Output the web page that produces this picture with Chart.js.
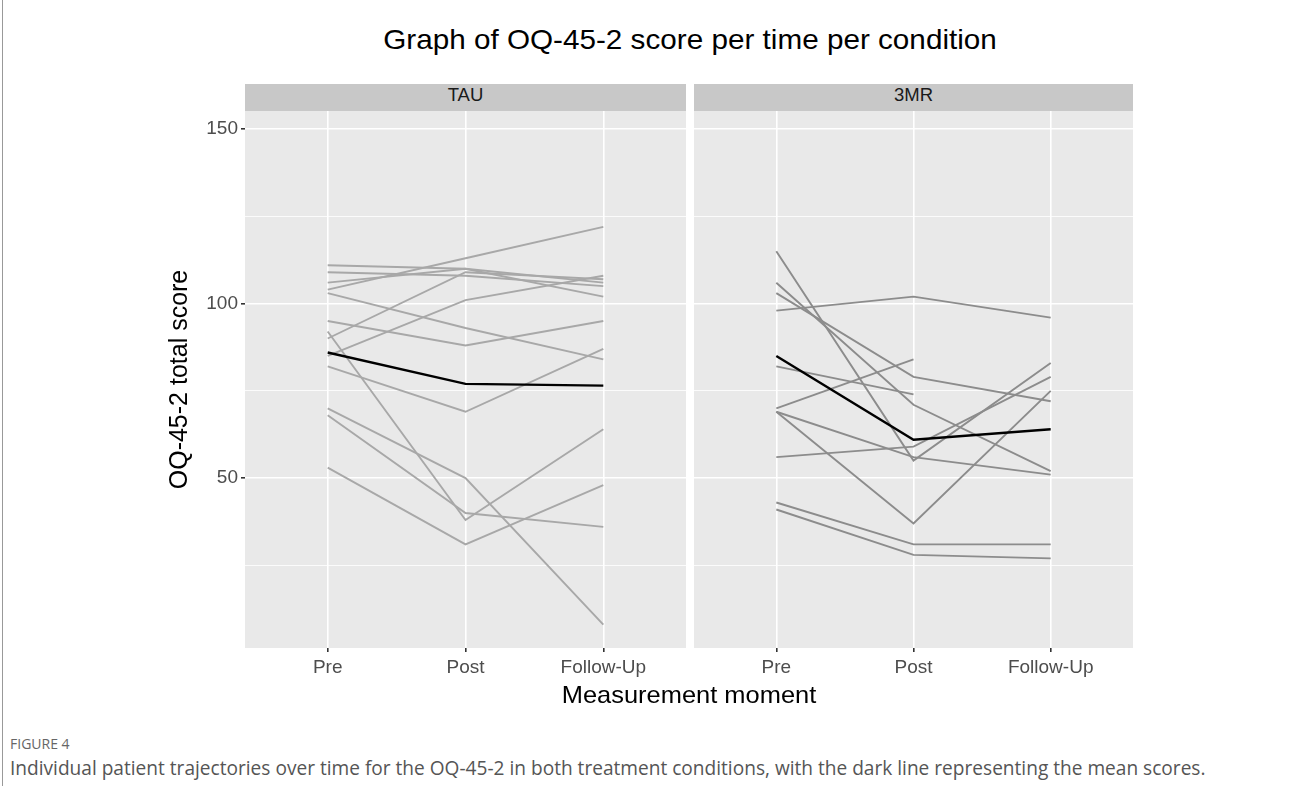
<!DOCTYPE html>
<html>
<head>
<meta charset="utf-8">
<script src="https://cdn.jsdelivr.net/npm/chart.js@4"></script>
<style>
  body { margin: 0; background: #fff; width: 1292px; height: 794px; position: relative; overflow: hidden; }
  .frame { position: absolute; left: 2px; top: 0; width: 0; height: 786px; border-left: 1px solid #999; }
  .title { position: absolute; left: 0; width: 1380px; top: 24px; text-align: center; font: 28px "Liberation Sans", Arial, sans-serif; color: #000; transform: scaleX(1.06); transform-origin: 690px 0; }
  .strip { position: absolute; top: 84px; height: 27px; line-height: 27px; background: #c8c8c8; text-align: center; font: 18.5px "Liberation Sans", Arial, sans-serif; color: #1a1a1a; }
  .xtitle { position: absolute; left: 245px; width: 888px; top: 681px; text-align: center; font: 24px "Liberation Sans", Arial, sans-serif; color: #000; transform: scaleX(1.06); transform-origin: 444px 0; }
  .fig { position: absolute; left: 10px; top: 734px; font: 14px "Open Sans", sans-serif; color: #666; }
  .cap { position: absolute; left: 10px; top: 755px; font: 19.1px "Open Sans", sans-serif; color: #555; white-space: nowrap; }
  canvas { position: absolute; }
</style>
</head>
<body>
<div class="frame"></div>
<div class="title">Graph of OQ-45-2 score per time per condition</div>
<div class="strip" style="left:245px;width:441px">TAU</div>
<div class="strip" style="left:694px;width:439px">3MR</div>
<div style="position:absolute;left:165px;top:100px;width:525px;height:600px"><canvas id="tau_chart"></canvas></div>
<div style="position:absolute;left:690px;top:100px;width:450px;height:600px"><canvas id="mr_chart"></canvas></div>
<div class="xtitle">Measurement moment</div>
<div class="fig">FIGURE 4</div>
<div class="cap">Individual patient trajectories over time for the OQ-45-2 in both treatment conditions, with the dark line representing the mean scores.</div>

<script>
'use strict';

const moments = ['Pre', 'Post', 'Follow-Up'];
const y_ticks = [25, 50, 75, 100, 125, 150];

// TAU condition, one row per patient (Pre, Post, Follow-Up)
const tau_patients = [
    [111, 110, 106],
    [109, 108, 105],
    [106, 110, 102],
    [104, 113, 122],
    [103, 93, 84],
    [95, 88, 95],
    [90, 109, 107],
    [85, 101, 108],
    [82, 69, 87],
    [92, 38, 64],
    [70, 50, 8],
    [68, 40, 36],
    [53, 31, 48],
];
const tau_mean = [86, 77, 76.5];

// 3MR condition
const mr_patients = [
    [115, 55, 83],
    [106, 71, 52],
    [103, 79, 72],
    [98, 102, 96],
    [82, 74, null],
    [70, 84, null],
    [69, 56, 51],
    [69, 37, 75],
    [56, 59, 79],
    [43, 31, 31],
    [41, 28, 27],
];
const mr_mean = [85, 61, 64];

const to_points = (values) => values.map((v, i) => ({ x: i + 1, y: v }));

const panel_bg = {
    id: 'panel_bg',
    beforeDraw(chart) {
        const { ctx, chartArea } = chart;
        ctx.save();
        ctx.fillStyle = '#e9e9e9';
        ctx.fillRect(chartArea.left, chartArea.top, chartArea.width, chartArea.height);
        ctx.restore();
    }
};

const make_datasets = (patients, mean, color) => {
    const sets = [{
        data: to_points(mean),
        borderColor: '#000',
        borderWidth: 2.4,
        order: 0,
    }];
    patients.forEach((p) => {
        sets.push({
            data: to_points(p),
            borderColor: color,
            borderWidth: 1.9,
            order: 1,
        });
    });
    return sets;
};

// keep the panel exactly where the layout puts it, no room for label overflow
const no_overflow = (scale) => {
    scale.paddingTop = 0;
    scale.paddingBottom = 0;
    scale.paddingLeft = 0;
    scale.paddingRight = 0;
};

const tick_font = { family: 'Liberation Sans', size: 19 };

const make_options = (show_y) => ({
    responsive: true,
    maintainAspectRatio: false,
    animation: false,
    events: [],
    layout: { padding: show_y ? { top: 11, right: 4 } : { top: 11, left: 4, right: 7 } },
    elements: { point: { radius: 0 }, line: { tension: 0 } },
    plugins: { legend: { display: false }, tooltip: { enabled: false } },
    scales: {
        x: {
            type: 'linear',
            min: 0.4,
            max: 3.6,
            afterBuildTicks: (scale) => { scale.ticks = moments.map((m, i) => ({ value: i + 1 })); },
            afterFit: (scale) => { scale.height = 52; no_overflow(scale); },
            border: { display: false },
            grid: { color: '#fff', lineWidth: 1.6, tickLength: 4, tickColor: '#333' },
            ticks: {
                callback: (v) => moments[v - 1],
                color: '#4d4d4d',
                font: tick_font,
                padding: 4,
                maxRotation: 0,
            },
        },
        y: {
            min: 1.3,
            max: 155.2,
            afterBuildTicks: (scale) => { scale.ticks = y_ticks.map((v) => ({ value: v })); },
            afterFit: (scale) => { scale.width = show_y ? 80 : 0; no_overflow(scale); },
            border: { display: false },
            grid: {
                color: '#fff',
                lineWidth: (c) => (c.tick && c.tick.value % 50 === 0 ? 1.6 : 0.8),
                drawTicks: show_y,
                tickLength: 4,
                tickColor: (c) => (c.tick && c.tick.value % 50 === 0 ? '#333' : 'rgba(0,0,0,0)'),
            },
            ticks: {
                display: show_y,
                callback: (v) => (v % 50 === 0 ? v : ''),
                color: '#4d4d4d',
                font: tick_font,
                padding: 3,
            },
            title: {
                display: show_y,
                text: 'OQ-45-2 total score',
                color: '#000',
                font: { family: 'Liberation Sans', size: 25 },
                padding: { top: 0, bottom: 0 },
            },
        },
    },
});

new Chart(document.getElementById('tau_chart'), {
    type: 'line',
    data: { datasets: make_datasets(tau_patients, tau_mean, '#a8a8a8') },
    options: make_options(true),
    plugins: [panel_bg],
});

new Chart(document.getElementById('mr_chart'), {
    type: 'line',
    data: { datasets: make_datasets(mr_patients, mr_mean, '#8c8c8c') },
    options: make_options(false),
    plugins: [panel_bg],
});
</script>
</body>
</html>
